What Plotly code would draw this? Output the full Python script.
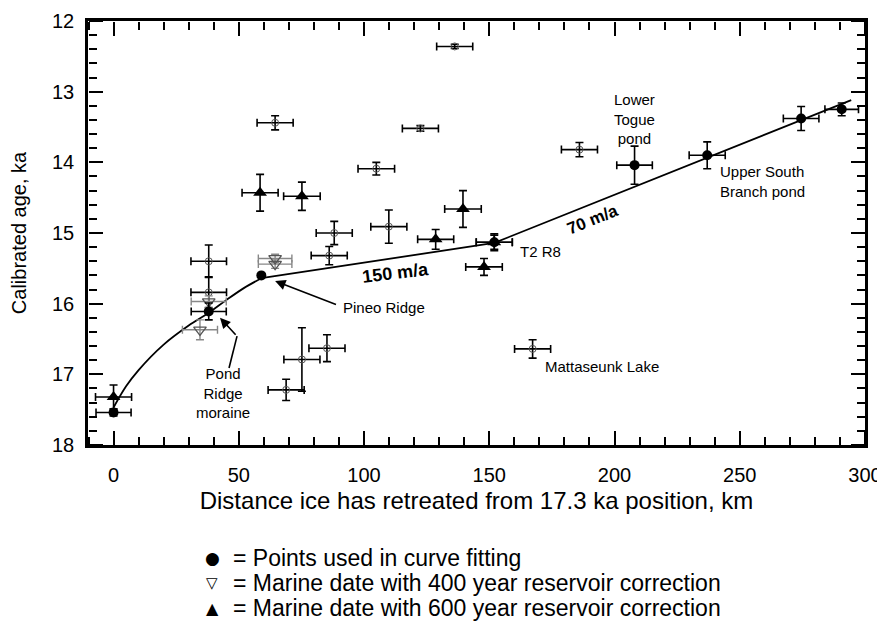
import plotly.graph_objects as go

FONT = "Liberation Sans, Arial, sans-serif"

# ---- data -------------------------------------------------------------
# Points used in curve fitting (filled circles)
fit_x = [0, 38, 59, 152, 208, 237, 274.5, 290.7]
fit_y = [17.54, 16.11, 15.60, 15.13, 14.04, 13.90, 13.38, 13.25]
fit_xerr = [7.0, 7.0, 0.0, 7.2, 7.1, 7.2, 7.1, 6.7]
fit_yerr = [0.05, 0.12, 0.0, 0.10, 0.27, 0.19, 0.17, 0.09]

# Marine dates, 400 year reservoir correction (open down-triangles)
m400_x = [38, 34.5, 64.5, 64.5]
m400_y = [15.97, 16.37, 15.36, 15.44]
m400_xerr = [7.0, 7.0, 6.7, 6.7]
m400_yerr = [0.08, 0.14, 0.06, 0.06]

# Marine dates, 600 year reservoir correction (filled up-triangles)
m600_x = [0, 58.5, 75.2, 128.6, 139.5, 147.9, 152]
m600_y = [17.32, 14.43, 14.48, 15.09, 14.66, 15.48, 15.13]
m600_xerr = [7.2, 7.2, 7.3, 7.2, 7.3, 7.3, 7.2]
m600_yerr = [0.17, 0.26, 0.20, 0.14, 0.26, 0.12, 0.12]

# Other dates (small open circles)
oth_x = [38, 38, 64.5, 136.2, 122.5, 104.9, 88.1, 86.1, 109.9, 85.2, 75.2, 68.9, 186, 167.3]
oth_y = [15.40, 15.84, 13.44, 12.36, 13.52, 14.09, 15.00, 15.32, 14.91, 16.63, 16.79, 17.22, 13.82, 16.64]
oth_xerr = [7.1, 7.1, 7.2, 7.2, 7.2, 7.3, 7.2, 7.2, 7.2, 7.2, 7.2, 7.2, 7.2, 7.2]
oth_yerr = [0.23, 0.22, 0.10, 0.03, 0.04, 0.09, 0.165, 0.13, 0.235, 0.19, 0.45, 0.15, 0.10, 0.13]

# Fitted retreat curve
curve_x = [0, 5, 10, 20, 30, 38, 45, 52, 59]
curve_y = [17.47, 17.17, 16.94, 16.58, 16.31, 16.13, 15.95, 15.78, 15.64]
line_x = [59, 152, 294.5]
line_y = [15.64, 15.14, 13.12]

x_ticks = [0, 50, 100, 150, 200, 250, 300]
y_ticks = [12, 13, 14, 15, 16, 17, 18]
x_minor_step = 10
y_minor_step = 0.2

legend_symbols = ["●", "▽", "▲"]
legend_labels = ["= Points used in curve fitting",
                 "= Marine date with 400 year reservoir correction",
                 "= Marine date with 600 year reservoir correction"]

# ---- figure -----------------------------------------------------------
# The page body has an 8 px margin, so the figure is 8 px smaller than the window.
W, H = 877, 614
ML, MR, MT = 80, 20, 13
MB = H - MT - 424
X_RANGE = [-10.2, 300]
Y_RANGE = [18, 12]

fig = go.Figure()

def ebar(arr, color="black", thick=1.6):
    return dict(type="data", array=arr, visible=True, color=color,
                thickness=thick, width=4)

fig.add_trace(go.Scatter(x=curve_x, y=curve_y, mode="lines",
                         line=dict(color="black", width=1.8, shape="spline", smoothing=1),
                         showlegend=False, hoverinfo="skip"))
fig.add_trace(go.Scatter(x=line_x, y=line_y, mode="lines",
                         line=dict(color="black", width=1.8),
                         showlegend=False, hoverinfo="skip"))
fig.add_trace(go.Scatter(x=oth_x, y=oth_y, mode="markers",
                         marker=dict(symbol="circle-open", size=7, color="#555", line=dict(width=1)),
                         error_x=ebar(oth_xerr), error_y=ebar(oth_yerr), showlegend=False))
fig.add_trace(go.Scatter(x=m400_x, y=m400_y, mode="markers", name=legend_labels[1],
                         marker=dict(symbol="triangle-down-open", size=11, color="#555",
                                     line=dict(width=1.3)),
                         error_x=ebar(m400_xerr, "#888", 1.4), error_y=ebar(m400_yerr, "#888", 1.4),
                         showlegend=False))
fig.add_trace(go.Scatter(x=m600_x, y=m600_y, mode="markers", name=legend_labels[2],
                         marker=dict(symbol="triangle-up", size=12, color="black"),
                         error_x=ebar(m600_xerr), error_y=ebar(m600_yerr), showlegend=False))
fig.add_trace(go.Scatter(x=fit_x, y=fit_y, mode="markers", name=legend_labels[0],
                         marker=dict(symbol="circle", size=10, color="black"),
                         error_x=ebar(fit_xerr), error_y=ebar(fit_yerr), showlegend=False))

# empty helper traces so the tick-only overlay axes are created
for xa, ya in [("x2", "y2"), ("x3", "y3")]:
    fig.add_trace(go.Scatter(x=[], y=[], xaxis=xa, yaxis=ya, mode="markers",
                             showlegend=False, hoverinfo="skip"))

ann_font = dict(family=FONT, size=15, color="black")
annotations = [
    dict(x=207.9, y=13.39, text="Lower<br>Togue<br>pond", showarrow=False, font=ann_font),
    dict(x=241.5, y=14.27, text="Upper South<br>Branch pond", showarrow=False,
         xanchor="left", align="left", font=ann_font),
    dict(x=161.5, y=15.26, text="T2 R8", showarrow=False, xanchor="left", font=ann_font),
    dict(x=171.5, y=16.89, text="Mattaseunk Lake", showarrow=False, xanchor="left", font=ann_font),
    dict(x=91.0, y=16.05, text="Pineo Ridge", showarrow=False, xanchor="left", font=ann_font),
    dict(x=43.7, y=17.27, text="Pond<br>Ridge<br>moraine", showarrow=False, font=ann_font),
    dict(x=112.5, y=15.56, text="<b>150 m/a</b>", showarrow=False, textangle=-7,
         font=dict(family=FONT, size=18, color="black")),
    dict(x=191.4, y=14.81, text="<b>70 m/a</b>", showarrow=False, textangle=-22,
         font=dict(family=FONT, size=17, color="black")),
    dict(x=64.5, y=15.68, ax=89.4, ay=16.02, axref="x", ayref="y",
         text="", showarrow=True, arrowhead=2, arrowsize=1.3, arrowwidth=1.6, arrowcolor="black"),
    dict(x=42.5, y=16.20, ax=49.3, ay=16.46, axref="x", ayref="y",
         text="", showarrow=True, arrowhead=2, arrowsize=1.3, arrowwidth=1.6, arrowcolor="black"),
]
legend_rows_y = [-0.2665, -0.326, -0.385]
for sym, lab, yy, ssz in zip(legend_symbols, legend_labels, legend_rows_y, [17, 15, 16]):
    annotations.append(dict(xref="paper", yref="paper", x=(212 - 88) / 777, y=yy,
                            text=sym, showarrow=False, xanchor="center", yanchor="middle",
                            font=dict(family="DejaVu Sans", size=ssz, color="black")))
    annotations.append(dict(xref="paper", yref="paper", x=(231 - 88) / 777, y=yy,
                            text=lab, showarrow=False, xanchor="left", yanchor="middle",
                            font=dict(family=FONT, size=23, color="black")))

fig.add_shape(type="line", x0=46.1, y0=16.91, x1=49.3, y1=16.46,
              xref="x", yref="y", line=dict(color="black", width=1.6))

# tick marks pointing into the frame: outside ticks of free axes placed on the opposite edge
def tick_axis(rng, t0, dt, mdt, side, pos, overlay):
    return dict(range=rng, overlaying=overlay, anchor="free", position=pos, side=side,
                tickmode="linear", tick0=t0, dtick=dt,
                ticks="outside", ticklen=14, tickwidth=2, tickcolor="black",
                minor=dict(dtick=mdt, ticks="outside", ticklen=8, tickwidth=2,
                           tickcolor="black"),
                showticklabels=False, showgrid=False, zeroline=False, showline=False,
                automargin=False)

fig.update_layout(
    xaxis=dict(range=X_RANGE, tickmode="linear", tick0=x_ticks[0], dtick=x_ticks[1] - x_ticks[0],
               ticks="", showline=True, linecolor="black", linewidth=2.5, mirror=True,
               showgrid=False, zeroline=False, automargin=False, ticklabelstandoff=10,
               tickfont=dict(family=FONT, size=20, color="black"),
               title=dict(text="Distance ice has retreated from 17.3 ka position, km",
                          font=dict(family=FONT, size=24, color="black"), standoff=8)),
    yaxis=dict(range=Y_RANGE, tickmode="linear", tick0=y_ticks[0], dtick=y_ticks[1] - y_ticks[0],
               ticks="", showline=True, linecolor="black", linewidth=2.5, mirror=True,
               showgrid=False, zeroline=False, automargin=False, ticklabelstandoff=7,
               tickfont=dict(family=FONT, size=20, color="black"),
               title=dict(text="Calibrated age, ka",
                          font=dict(family=FONT, size=20, color="black"), standoff=22)),
    # bottom-edge ticks (pointing up) and top-edge ticks (pointing down)
    xaxis2=tick_axis(X_RANGE, x_ticks[0], x_ticks[1] - x_ticks[0], x_minor_step, "top", 0, "x"),
    xaxis3=tick_axis(X_RANGE, x_ticks[0], x_ticks[1] - x_ticks[0], x_minor_step, "bottom", 1, "x"),
    # left-edge ticks (pointing right) and right-edge ticks (pointing left)
    yaxis2=tick_axis(Y_RANGE, y_ticks[0], y_ticks[1] - y_ticks[0], y_minor_step, "right", 0, "y"),
    yaxis3=tick_axis(Y_RANGE, y_ticks[0], y_ticks[1] - y_ticks[0], y_minor_step, "left", 1, "y"),
    width=W, height=H,
    margin=dict(l=ML, r=MR, t=MT, b=MB),
    paper_bgcolor="white", plot_bgcolor="rgba(0,0,0,0)",
    font=dict(family=FONT, size=18, color="black"),
    annotations=annotations,
    showlegend=False,
)

fig.write_html("out.html")
